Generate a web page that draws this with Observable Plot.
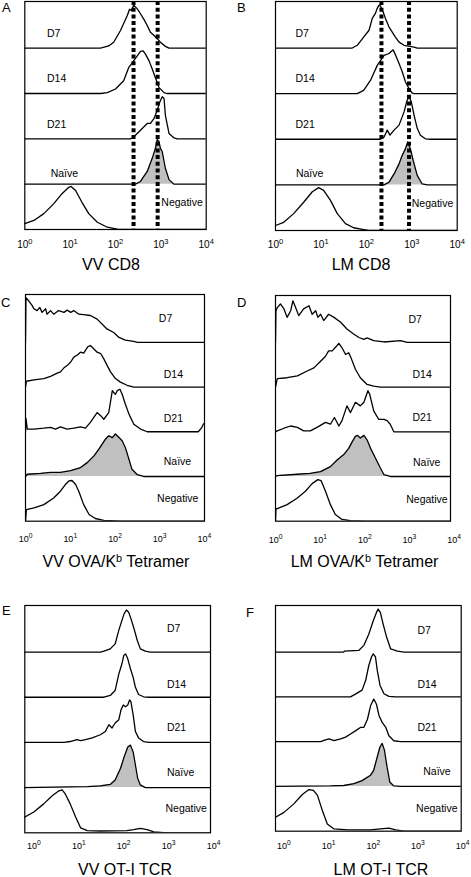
<!DOCTYPE html>
<html><head><meta charset="utf-8">
<script src="https://cdn.jsdelivr.net/npm/d3@7"></script>
<script src="https://cdn.jsdelivr.net/npm/@observablehq/plot@0.6"></script>
<style>
html,body{margin:0;padding:0;background:#fff;}
#root{position:relative;width:471px;height:877px;overflow:hidden;font-family:"Liberation Sans",Arial,sans-serif;color:#000;}
.abs{position:absolute;}
.letter{font-size:13px;line-height:1;}
.title{font-size:16px;line-height:1;white-space:nowrap;transform:translate(-50%,-50%);}
.title .sup{font-size:0.68em;vertical-align:0.45em;line-height:0;}
</style></head><body><div id="root"></div>
<script>
// Strip order, bottom to top
const samples = ["Negative", "Naïve", "D21", "D14", "D7"];
const tickValues = [1, 10, 100, 1000, 10000];

// Each curve: [log10 fluorescence, height in strip units]
// Panel A — VV CD8
const A_D7 = [[0,0],[1.67,0],[1.85,0.05],[1.96,0.13],[2.11,0.39],[2.26,0.72],[2.31,0.86],[2.35,0.83],[2.40,0.95],[2.45,0.9],[2.50,0.84],[2.55,0.76],[2.63,0.63],[2.70,0.5],[2.77,0.35],[2.85,0.28],[2.92,0.21],[2.99,0.13],[3.1,0.04],[3.18,0],[4,0]];
const A_D14 = [[0,0],[1.67,0],[1.82,0.02],[2.0,0.1],[2.18,0.28],[2.29,0.57],[2.40,0.72],[2.48,0.83],[2.55,0.93],[2.61,0.94],[2.66,0.87],[2.74,0.72],[2.81,0.54],[2.88,0.35],[2.96,0.13],[3.07,0.02],[3.14,0],[4,0]];
const A_D21 = [[0,0],[2.33,0],[2.40,0.04],[2.55,0.19],[2.70,0.34],[2.77,0.34],[2.85,0.45],[2.92,0.63],[2.98,0.82],[3.03,0.93],[3.07,0.89],[3.10,0.52],[3.18,0.12],[3.29,0.02],[3.36,0],[4,0]];
const A_Naive = [[0,0],[2.44,0],[2.55,0.06],[2.70,0.28],[2.81,0.57],[2.88,0.79],[2.92,0.98],[2.96,0.94],[2.99,0.79],[3.03,0.72],[3.10,0.35],[3.18,0.1],[3.29,0],[4,0]];
const A_Neg = [[0,0.13],[0.2,0.2],[0.42,0.35],[0.64,0.57],[0.82,0.79],[0.97,0.93],[1.02,0.95],[1.12,0.86],[1.26,0.6],[1.41,0.35],[1.6,0.16],[1.82,0.05],[2.04,0.01],[2.11,0],[4,0]];
const A_gates = [250, 850];

// Panel B — LM CD8
const B_D7 = [[0,0],[1.69,0],[1.80,0.06],[1.94,0.24],[2.06,0.39],[2.13,0.65],[2.20,0.76],[2.24,0.87],[2.28,0.94],[2.31,0.92],[2.37,0.79],[2.42,0.65],[2.50,0.46],[2.57,0.35],[2.64,0.24],[2.72,0.13],[2.83,0.06],[3.05,0.02],[3.12,0],[4,0]];
const B_D14 = [[0,0],[1.80,0],[1.94,0.07],[2.09,0.29],[2.24,0.62],[2.39,0.84],[2.50,0.88],[2.59,0.96],[2.64,0.85],[2.72,0.66],[2.79,0.48],[2.86,0.26],[2.94,0.11],[3.01,0.01],[3.05,0],[4,0]];
const B_D21 = [[0,0],[2.31,0],[2.39,0.05],[2.46,0.2],[2.52,0.09],[2.61,0.2],[2.72,0.31],[2.83,0.6],[2.90,0.86],[2.94,0.93],[2.99,0.82],[3.05,0.53],[3.12,0.24],[3.19,0.09],[3.30,0.01],[3.41,0],[4,0]];
const B_Naive = [[0,0],[2.39,0],[2.50,0.06],[2.61,0.24],[2.72,0.46],[2.79,0.65],[2.86,0.79],[2.91,0.94],[2.97,0.79],[3.03,0.54],[3.12,0.21],[3.23,0.02],[3.34,0],[4,0]];
const B_Neg = [[0,0.11],[0.18,0.18],[0.40,0.37],[0.62,0.62],[0.81,0.85],[0.95,0.94],[1.06,0.88],[1.21,0.66],[1.36,0.37],[1.54,0.15],[1.72,0.06],[1.94,0.02],[2.06,0],[4,0]];
const B_gates = [215, 870];

// Panel C — VV OVA/Kb tetramer
const C_D7 = [[0,0],[0.01,1.0],[0.07,0.93],[0.15,0.82],[0.19,0.75],[0.26,0.71],[0.32,0.78],[0.37,0.67],[0.45,0.75],[0.48,0.63],[0.56,0.71],[0.63,0.63],[0.74,0.71],[0.86,0.67],[0.93,0.72],[1.01,0.67],[1.08,0.71],[1.19,0.63],[1.30,0.62],[1.45,0.6],[1.60,0.52],[1.71,0.41],[1.82,0.3],[1.97,0.22],[2.09,0.11],[2.23,0.05],[2.42,0.02],[2.50,0],[4,0]];
const C_D14 = [[0,0],[0.02,0.13],[0.19,0.16],[0.41,0.19],[0.56,0.24],[0.71,0.31],[0.78,0.34],[0.86,0.43],[0.93,0.48],[1.01,0.56],[1.08,0.67],[1.15,0.71],[1.23,0.78],[1.30,0.76],[1.39,0.9],[1.45,0.93],[1.53,0.85],[1.60,0.78],[1.68,0.75],[1.75,0.63],[1.82,0.49],[1.90,0.34],[2.01,0.19],[2.12,0.11],[2.27,0.04],[2.42,0],[4,0]];
const C_D21 = [[0,0],[0.01,0.3],[0.04,0.06],[0.19,0.06],[0.41,0.08],[0.56,0.1],[0.67,0.06],[0.78,0.11],[0.93,0.06],[1.08,0.08],[1.23,0.11],[1.34,0.08],[1.45,0.21],[1.60,0.43],[1.68,0.36],[1.75,0.28],[1.86,0.43],[1.94,0.92],[1.97,0.88],[2.01,0.84],[2.05,0.92],[2.11,0.95],[2.16,0.84],[2.23,0.62],[2.31,0.4],[2.42,0.17],[2.57,0.06],[2.72,0],[3.86,0],[3.93,0.08],[3.98,0.18]];
const C_Naive = [[0,0],[0.04,0.05],[0.34,0.07],[0.56,0.09],[0.78,0.09],[1.01,0.13],[1.23,0.2],[1.38,0.31],[1.53,0.46],[1.64,0.61],[1.71,0.72],[1.79,0.84],[1.86,0.91],[1.94,0.87],[2.01,0.95],[2.09,0.87],[2.16,0.8],[2.23,0.65],[2.31,0.39],[2.38,0.16],[2.50,0.04],[2.64,0],[4,0]];
const C_Neg = [[0,0],[0.02,0.26],[0.19,0.3],[0.41,0.37],[0.63,0.52],[0.78,0.67],[0.89,0.82],[0.97,0.9],[1.04,0.91],[1.12,0.82],[1.19,0.67],[1.30,0.37],[1.42,0.15],[1.56,0.06],[1.75,0.02],[2.12,0],[4,0]];

// Panel D — LM OVA/Kb tetramer
const D_D7 = [[0,0],[0.01,0.7],[0.04,0.78],[0.11,0.86],[0.19,0.75],[0.26,0.56],[0.34,0.71],[0.39,0.93],[0.45,0.78],[0.52,0.6],[0.63,0.75],[0.75,0.82],[0.82,0.63],[0.9,0.71],[0.95,0.56],[1.01,0.63],[1.08,0.49],[1.19,0.63],[1.31,0.56],[1.46,0.45],[1.60,0.3],[1.75,0.19],[1.87,0.11],[1.98,0.07],[2.05,0.1],[2.2,0.04],[2.43,0.01],[2.8,0.04],[2.95,0],[4,0]];
const D_D14 = [[0,0],[0.04,0.19],[0.26,0.21],[0.49,0.25],[0.71,0.36],[0.86,0.43],[1.01,0.58],[1.12,0.69],[1.19,0.81],[1.27,0.81],[1.37,0.92],[1.42,0.98],[1.49,0.88],[1.57,0.73],[1.64,0.77],[1.69,0.66],[1.79,0.4],[1.90,0.21],[2.05,0.06],[2.2,0.02],[2.35,0],[4,0]];
const D_D21 = [[0,0],[0.04,0.02],[0.19,0.08],[0.34,0.13],[0.49,0.1],[0.63,0.02],[0.78,0.02],[0.93,0.1],[1.12,0.21],[1.23,0.17],[1.32,0.32],[1.42,0.13],[1.49,0.25],[1.60,0.58],[1.68,0.43],[1.79,0.66],[1.90,0.58],[1.98,0.66],[2.07,0.92],[2.11,0.84],[2.2,0.47],[2.31,0.28],[2.43,0.28],[2.5,0.25],[2.57,0.17],[2.65,0],[4,0]];
const D_Naive = [[0,0],[0.04,0.02],[0.49,0.05],[0.78,0.07],[1.01,0.11],[1.23,0.22],[1.38,0.37],[1.53,0.49],[1.64,0.63],[1.72,0.78],[1.79,0.9],[1.84,0.92],[1.90,0.86],[1.98,0.92],[2.05,0.82],[2.13,0.63],[2.24,0.41],[2.35,0.19],[2.43,0.04],[2.57,0],[4,0]];
const D_Neg = [[0,0],[0.01,0.28],[0.04,0.28],[0.26,0.37],[0.49,0.52],[0.67,0.67],[0.82,0.84],[0.95,0.93],[1.02,0.91],[1.12,0.67],[1.23,0.37],[1.34,0.15],[1.49,0.04],[1.68,0.01],[1.98,0],[4,0]];

// Panel E — VV OT-I TCR
const E_D7 = [[-0.25,0],[1.48,0],[1.56,0.02],[1.70,0.07],[1.81,0.18],[1.89,0.48],[1.96,0.7],[2.01,0.85],[2.06,0.93],[2.11,0.88],[2.16,0.74],[2.22,0.55],[2.30,0.26],[2.37,0.07],[2.48,0.02],[2.59,0],[4,0]];
const E_D14 = [[-0.25,0],[1.56,0],[1.70,0.04],[1.81,0.15],[1.89,0.51],[1.96,0.74],[2.0,0.92],[2.04,0.96],[2.09,0.85],[2.15,0.63],[2.21,0.44],[2.26,0.22],[2.33,0.06],[2.44,0.01],[2.56,0],[4,0]];
const E_D21 = [[-0.25,0],[0.67,0],[0.81,0.02],[0.96,0.06],[1.04,0.04],[1.15,0.06],[1.30,0.1],[1.48,0.17],[1.59,0.24],[1.67,0.39],[1.74,0.32],[1.81,0.43],[1.89,0.5],[1.94,0.72],[1.99,0.83],[2.04,0.79],[2.09,0.83],[2.13,0.94],[2.16,0.9],[2.21,0.61],[2.26,0.24],[2.33,0.1],[2.44,0.02],[2.56,0],[4,0]];
const E_Naive = [[-0.25,0],[1.19,0.02],[1.48,0.04],[1.70,0.07],[1.81,0.17],[1.93,0.43],[2.01,0.68],[2.09,0.9],[2.15,0.94],[2.21,0.79],[2.26,0.5],[2.31,0.21],[2.37,0.06],[2.48,0],[4,0]];
const E_Neg = [[-0.25,0.32],[0,0.46],[0.22,0.64],[0.41,0.82],[0.56,0.93],[0.63,0.95],[0.70,0.86],[0.81,0.64],[0.93,0.35],[1.04,0.11],[1.19,0.05],[1.48,0.04],[2.07,0.05],[2.22,0.07],[2.37,0.1],[2.52,0.07],[2.67,0.02],[2.96,0],[4,0]];

// Panel F — LM OT-I TCR
const F_D7 = [[-0.25,0],[1.34,0],[1.35,0.02],[1.68,0.04],[1.79,0.15],[1.90,0.4],[2.0,0.7],[2.07,0.88],[2.11,0.96],[2.16,0.88],[2.22,0.63],[2.30,0.33],[2.39,0.07],[2.54,0.02],[2.69,0],[4,0]];
const F_D14 = [[-0.25,0],[1.49,0],[1.60,0.06],[1.75,0.15],[1.83,0.37],[1.90,0.7],[1.96,0.89],[2.0,0.96],[2.05,0.89],[2.09,0.59],[2.15,0.26],[2.24,0.07],[2.35,0.01],[2.5,0],[4,0]];
const F_D21 = [[-0.25,0],[0.82,0],[0.93,0.04],[1.01,0.06],[1.12,0.02],[1.27,0.06],[1.38,0.1],[1.49,0.17],[1.60,0.24],[1.72,0.32],[1.79,0.32],[1.87,0.5],[1.94,0.8],[2.01,0.95],[2.07,0.84],[2.13,0.58],[2.20,0.43],[2.28,0.32],[2.35,0.13],[2.46,0.02],[2.61,0],[4,0]];
const F_Naive = [[-0.25,0],[1.04,0.01],[1.34,0.02],[1.57,0.06],[1.75,0.13],[1.94,0.25],[2.01,0.36],[2.09,0.66],[2.15,0.88],[2.2,0.96],[2.25,0.81],[2.31,0.43],[2.37,0.1],[2.46,0.01],[2.61,0],[4,0]];
const F_Neg = [[-0.25,0.29],[-0.19,0.31],[0,0.42],[0.22,0.61],[0.41,0.82],[0.56,0.93],[0.66,0.91],[0.75,0.8],[0.86,0.46],[0.97,0.16],[1.12,0.05],[1.42,0.03],[1.94,0.03],[2.16,0.05],[2.35,0.07],[2.5,0.03],[2.69,0],[4,0]];

// Panel layout (page pixels) and label placement: [log10 x, offset within strip]
const panels = [
  {letter:"A", lx:2, ly:1, curves:[A_Neg,A_Naive,A_D21,A_D14,A_D7], gates:A_gates,
   frame:{l:24.3,r:205.7,t:1,b:229}, dom:[0,4], yMax:5.03, tickFont:10, tickPad:11.5,
   title:"VV CD8", tx:111, ty:265,
   labels:[[3.01,0.6],[0.57,0.24],[0.49,0.31],[0.49,0.32],[0.49,0.32]]},
  {letter:"B", lx:237, ly:1, curves:[B_Neg,B_Naive,B_D21,B_D14,B_D7], gates:B_gates,
   frame:{l:275,r:456.7,t:1,b:230}, dom:[0,4], yMax:5.02, tickFont:10, tickPad:10.5,
   title:"LM CD8", tx:361, ty:265,
   labels:[[3.0,0.59],[0.45,0.24],[0.44,0.31],[0.44,0.32],[0.44,0.32]]},
  {letter:"C", lx:1, ly:296, curves:[C_Neg,C_Naive,C_D21,C_D14,C_D7],
   frame:{l:25,r:204,t:294,b:520.7}, dom:[0,4], yMax:5.07, tickFont:9, tickPad:14,
   title:"VV OVA/K<span class='sup'>b</span> Tetramer", tx:116, ty:561.7,
   labels:[[2.94,0.51],[3.09,0.33],[3.09,0.29],[3.09,0.28],[2.98,0.53]]},
  {letter:"D", lx:237, ly:296, curves:[D_Neg,D_Naive,D_D21,D_D14,D_D7],
   frame:{l:275,r:450,t:295,b:520.7}, dom:[0,3.92], yMax:5.05, tickFont:9, tickPad:15,
   title:"LM OVA/K<span class='sup'>b</span> Tetramer", tx:364.5, ty:561.7,
   labels:[[2.93,0.49],[3.08,0.32],[3.07,0.32],[3.07,0.28],[2.98,0.52]]},
  {letter:"E", lx:2, ly:604, curves:[E_Neg,E_Naive,E_D21,E_D14,E_D7],
   frame:{l:24.3,r:210,t:605,b:832.3}, dom:[-0.2,3.93], yMax:5.03, tickFont:9, tickPad:10,
   title:"VV OT-I TCR", tx:125, ty:869.5,
   labels:[[2.93,0.53],[2.96,0.33],[2.96,0.32],[2.96,0.27],[2.96,0.52]]},
  {letter:"F", lx:246, ly:606, curves:[F_Neg,F_Naive,F_D21,F_D14,F_D7],
   frame:{l:275,r:460.7,t:605,b:830.7}, dom:[-0.19,3.97], yMax:5.04, tickFont:9, tickPad:11.5,
   title:"LM OT-I TCR", tx:381, ty:869.5,
   labels:[[2.96,0.5],[3.12,0.33],[2.99,0.32],[2.99,0.28],[2.99,0.48]]}
];

const root = document.getElementById("root");

for (const p of panels) {
  const rows = [];
  p.curves.forEach((arr, strip) => {
    for (const [e, h] of arr) rows.push({s: samples[strip], x: 10 ** e, y: strip + h, base: strip});
  });
  const naive = rows.filter(d => d.s === "Naïve");
  const labelRows = samples.map((name, i) => ({name, x: 10 ** p.labels[i][0], y: i + p.labels[i][1]}));

  const colLeft = p.frame.l < 200 ? 0 : 232;
  const svgW = colLeft === 0 ? 232 : 239;
  const svgTop = Math.max(0, p.frame.t - 4);
  const svgH = p.frame.b + 30 - svgTop;

  const marks = [
    Plot.areaY(naive, {x: "x", y1: "base", y2: "y", fill: "#c0c0c0", clip: true}),
    Plot.line(rows, {x: "x", y: "y", z: "s", stroke: "black", strokeWidth: 1.3, clip: true}),
    Plot.frame({stroke: "black", strokeWidth: 1.2}),
    Plot.text(labelRows, {x: "x", y: "y", text: "name", textAnchor: "start", fontSize: 10.5, fill: "black"}),
    Plot.axisX({ticks: tickValues, tickSize: 0, tickPadding: p.tickPad, fontSize: p.tickFont,
                tickFormat: d => String(Math.round(Math.log10(d))), label: null})
  ];
  if (p.gates) marks.splice(3, 0, Plot.ruleX(p.gates, {stroke: "black", strokeWidth: 4, strokeDasharray: "4,2.7"}));

  const chart = Plot.plot({
    width: svgW, height: svgH,
    marginLeft: p.frame.l - colLeft, marginRight: colLeft + svgW - p.frame.r,
    marginTop: p.frame.t - svgTop, marginBottom: svgH - (p.frame.b - svgTop),
    x: {type: "log", domain: [10 ** p.dom[0], 10 ** p.dom[1]], axis: null},
    y: {domain: [0, p.yMax], axis: null},
    style: {fontFamily: "'Liberation Sans', Arial, sans-serif", background: "transparent", color: "black", overflow: "visible"},
    marks
  });
  chart.style.position = "absolute";
  chart.style.left = colLeft + "px";
  chart.style.top = svgTop + "px";
  root.appendChild(chart);

  // Tick labels as 10 with a raised exponent
  chart.querySelectorAll("g[aria-label='x-axis tick label'] text").forEach(t => {
    const k = t.textContent;
    t.textContent = "10";
    const ts = document.createElementNS("http://www.w3.org/2000/svg", "tspan");
    ts.setAttribute("dy", "-0.55em");
    ts.setAttribute("font-size", "0.75em");
    ts.textContent = k;
    t.appendChild(ts);
  });

  const letter = document.createElement("div");
  letter.className = "abs letter";
  letter.style.left = p.lx + "px";
  letter.style.top = p.ly + "px";
  letter.textContent = p.letter;
  root.appendChild(letter);

  const title = document.createElement("div");
  title.className = "abs title";
  title.style.left = p.tx + "px";
  title.style.top = p.ty + "px";
  title.innerHTML = p.title;
  root.appendChild(title);
}
</script></body></html>
